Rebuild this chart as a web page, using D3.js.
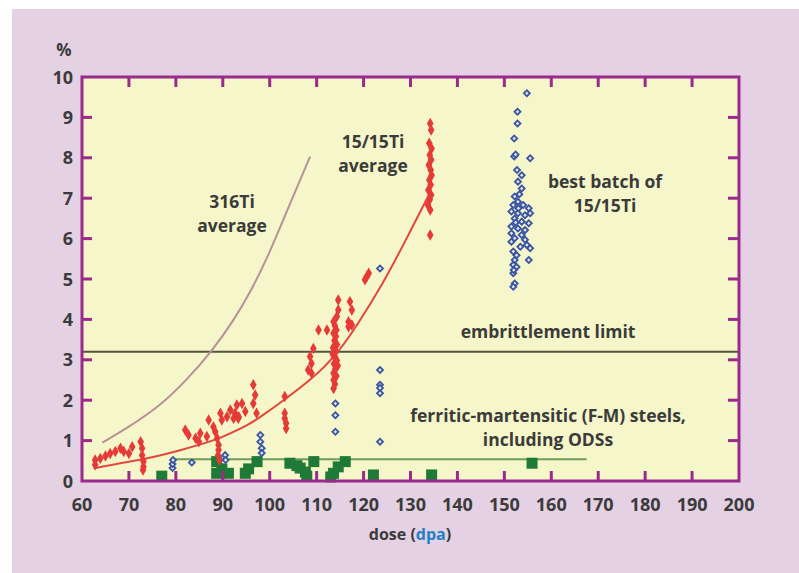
<!DOCTYPE html>
<html>
<head>
<meta charset="utf-8">
<script src="https://cdn.jsdelivr.net/npm/d3@7"></script>
<style>
  html, body { margin: 0; padding: 0; background: #fff; }
  svg { display: block; }
  text { font-family: "Open Sans", sans-serif; font-weight: 700; fill: #3b3b3b; }
</style>
</head>
<body>
<svg id="chart" width="799" height="573"></svg>
<script>
// dose axis (dpa) and swelling axis (%)
var xTicks = [60, 70, 80, 90, 100, 110, 120, 130, 140, 150, 160, 170, 180, 190, 200];
var yTicks = [0, 1, 2, 3, 4, 5, 6, 7, 8, 9, 10];

// average curves [dose, %]
var avg316Ti = [[64.3, 0.95], [69.5, 1.3], [76.6, 1.85], [82.3, 2.5], [87.6, 3.2],
  [92.2, 3.95], [96, 4.7], [99.4, 5.5], [103, 6.5], [108.6, 8.03]];
var avg1515Ti = [[62.5, 0.31], [68, 0.44], [74.2, 0.56], [81.3, 0.77], [88.4, 1.01],
  [91.6, 1.18], [95.5, 1.39], [98.6, 1.63], [103.6, 2.05], [108.6, 2.5], [111.5, 2.8],
  [115, 3.25], [118.6, 3.85], [124.2, 4.9], [128.5, 5.85], [134, 7.1]];

var embrittlementLimit = 3.2;
var fmAverage = [[79, 0.54], [167.5, 0.54]];

// 15/15Ti measurements
var points1515Ti = [
  [62.8, 0.40], [62.8, 0.52], [63.9, 0.56], [65.0, 0.62], [66.0, 0.68], [67.1, 0.73],
  [68.2, 0.81], [68.9, 0.73], [70.0, 0.68], [70.7, 0.85], [72.5, 0.97], [72.8, 0.81],
  [72.8, 0.64], [73.1, 0.48], [73.1, 0.35], [73.0, 0.27],
  [82.0, 1.26], [82.7, 1.14], [84.2, 1.06], [84.9, 0.97], [85.2, 1.18], [86.6, 1.10],
  [87.0, 1.51], [88.0, 1.34], [88.4, 1.22], [88.8, 1.06], [89.1, 0.89], [89.1, 0.77],
  [89.0, 0.64], [89.3, 0.52], [89.5, 1.68], [89.8, 1.51], [90.9, 1.59], [91.6, 1.76],
  [92.3, 1.55], [93.0, 1.88], [93.4, 1.59], [94.1, 1.92], [94.8, 1.72], [92.6, 1.68],
  [93.3, 1.55], [96.5, 2.38], [96.9, 2.13], [96.5, 1.92], [97.2, 1.68],
  [103.2, 2.09], [103.2, 1.68], [103.2, 1.55], [103.5, 1.43], [103.5, 1.30],
  [108.2, 2.75], [108.9, 2.67], [108.9, 2.91], [108.6, 3.08], [109.3, 3.28],
  [110.4, 3.74], [112.2, 3.74],
  [113.6, 2.29], [113.9, 2.40], [113.6, 2.50], [114.2, 2.60], [113.6, 2.67], [114.0, 2.78],
  [113.7, 2.90], [114.3, 2.98], [113.8, 3.08], [114.1, 3.20], [113.5, 3.30], [114.3, 3.38],
  [113.8, 3.48], [114.1, 3.58], [113.6, 3.66], [114.2, 3.74], [113.9, 3.84], [113.6, 3.94],
  [114.3, 4.07], [114.6, 4.23], [114.6, 4.48], [114.5, 2.85], [113.4, 3.15],
  [117.1, 4.44], [117.5, 4.23], [116.8, 3.94], [117.5, 3.86], [116.8, 3.82],
  [120.3, 4.98], [120.7, 5.06], [121.1, 5.14],
  [134.2, 8.85], [134.4, 8.69], [134.0, 8.36], [134.5, 8.23], [134.1, 8.07], [134.4, 7.95],
  [133.9, 7.82], [134.3, 7.70], [134.5, 7.57], [134.0, 7.45], [134.3, 7.33], [133.8, 7.20],
  [134.4, 7.08], [134.1, 6.96], [133.7, 6.83], [134.2, 6.71], [134.2, 6.09]
];

// best batch of 15/15Ti and other scattered measurements
var pointsBestBatch = [
  [79.3, 0.32], [79.3, 0.42], [79.4, 0.52], [83.4, 0.46], [90.5, 0.64], [90.6, 0.52],
  [98.0, 1.14], [98.0, 0.97], [98.3, 0.81], [98.3, 0.69],
  [114.0, 1.92], [114.0, 1.63], [114.0, 1.22],
  [123.5, 2.75], [123.5, 2.38], [123.5, 2.30], [123.5, 2.17], [123.5, 0.97], [123.5, 5.26],
  [154.8, 9.60], [152.8, 9.14], [152.8, 8.85], [152.1, 8.48], [152.1, 8.03], [152.4, 8.08],
  [155.5, 7.99], [152.7, 7.70], [153.7, 7.57], [152.9, 7.41], [153.7, 7.24], [152.2, 7.04],
  [152.9, 6.91], [151.9, 6.83], [154.0, 6.83], [155.2, 6.75], [151.5, 6.67], [152.9, 6.63],
  [154.4, 6.58], [155.5, 6.63], [152.2, 6.50], [153.7, 6.42], [155.2, 6.38], [151.5, 6.30],
  [152.9, 6.25], [154.4, 6.21], [151.5, 6.13], [153.7, 6.09], [152.2, 6.01], [154.4, 5.97],
  [151.5, 5.92], [154.8, 5.84], [155.5, 5.76], [151.9, 5.68], [152.6, 5.59], [152.2, 5.47],
  [155.2, 5.47], [151.9, 5.35], [152.6, 5.30], [151.9, 5.14], [152.2, 4.89], [151.9, 4.81],
  [153.2, 7.10], [153.0, 6.75], [152.4, 6.40], [153.4, 5.80], [152.0, 5.22]
];

// ferritic-martensitic steels
var pointsFM = [
  [77.0, 0.12], [88.7, 0.48], [88.7, 0.19], [89.8, 0.30], [91.2, 0.19], [94.8, 0.19],
  [95.5, 0.30], [97.3, 0.48], [104.3, 0.44], [105.8, 0.38], [106.5, 0.32], [107.6, 0.22],
  [107.9, 0.12], [109.4, 0.48], [113.6, 0.19], [113.0, 0.10], [114.6, 0.35], [116.1, 0.48],
  [122.1, 0.15], [134.5, 0.15], [155.9, 0.44]
];

var svg = d3.select('#chart');
var x = d3.scaleLinear().domain([60, 200]).range([82, 739]);
var y = d3.scaleLinear().domain([0, 10]).range([481, 77]);
var line = d3.line().x(function (d) { return x(d[0]); }).y(function (d) { return y(d[1]); });
var curve = d3.line().curve(d3.curveBasis)
  .x(function (d) { return x(d[0]); }).y(function (d) { return y(d[1]); });

svg.append('rect').attr('x', 12).attr('y', 9).attr('width', 787).attr('height', 564)
  .attr('fill', '#e5d1e4');
svg.append('rect').attr('x', x(60)).attr('y', y(10))
  .attr('width', x(200) - x(60)).attr('height', y(0) - y(10))
  .attr('fill', '#f5f6c9');

svg.append('line')
  .attr('x1', x(60)).attr('x2', x(200))
  .attr('y1', y(embrittlementLimit)).attr('y2', y(embrittlementLimit))
  .attr('stroke', '#55553f').attr('stroke-width', 2);

svg.append('path').datum(fmAverage).attr('d', line)
  .attr('fill', 'none').attr('stroke', '#6f9c5a').attr('stroke-width', 2);

svg.append('path').datum(avg316Ti).attr('d', curve)
  .attr('fill', 'none').attr('stroke', '#b79198').attr('stroke-width', 2);

svg.append('path').datum(avg1515Ti).attr('d', curve)
  .attr('fill', 'none').attr('stroke', '#e2463c').attr('stroke-width', 2);

svg.append('g').selectAll('rect')
  .data(pointsFM)
  .enter().append('rect')
  .attr('x', function (d) { return x(d[0]) - 5.5; })
  .attr('y', function (d) { return y(d[1]) - 5.5; })
  .attr('width', 11).attr('height', 11)
  .attr('fill', '#1f7a38');

svg.append('g').selectAll('path')
  .data(points1515Ti)
  .enter().append('path')
  .attr('d', d3.symbol().type(d3.symbolDiamond).size(38))
  .attr('transform', function (d) { return 'translate(' + x(d[0]) + ',' + y(d[1]) + ')'; })
  .attr('fill', '#e63a37');

// open diamonds: a square turned by 45 degrees
svg.append('g').selectAll('path')
  .data(pointsBestBatch)
  .enter().append('path')
  .attr('d', d3.symbol().type(d3.symbolSquare).size(18))
  .attr('transform', function (d) { return 'translate(' + x(d[0]) + ',' + y(d[1]) + ') rotate(45)'; })
  .attr('fill', '#e4e8f0')
  .attr('stroke', '#3a55a0')
  .attr('stroke-width', 1.8);

// frame with inward ticks on all four sides
var frame = svg.append('g').attr('stroke', '#9a2a8b').attr('stroke-width', 3);
frame.append('rect').attr('x', x(60)).attr('y', y(10))
  .attr('width', x(200) - x(60)).attr('height', y(0) - y(10)).attr('fill', 'none');
frame.selectAll('.tb').data(xTicks.slice(1, -1)).enter().append('line')
  .attr('x1', x).attr('x2', x).attr('y1', y(0)).attr('y2', y(0) - 10);
frame.selectAll('.tt').data(xTicks.slice(1, -1)).enter().append('line')
  .attr('x1', x).attr('x2', x).attr('y1', y(10)).attr('y2', y(10) + 10);
frame.selectAll('.tl').data(yTicks.slice(1, -1)).enter().append('line')
  .attr('y1', y).attr('y2', y).attr('x1', x(60)).attr('x2', x(60) + 10);
frame.selectAll('.tr').data(yTicks.slice(1, -1)).enter().append('line')
  .attr('y1', y).attr('y2', y).attr('x1', x(200)).attr('x2', x(200) - 11);

svg.append('g').selectAll('text').data(xTicks).enter().append('text')
  .attr('x', x).attr('y', 511).attr('text-anchor', 'middle')
  .attr('font-size', 18).text(function (d) { return d; });
svg.append('g').selectAll('text').data(yTicks).enter().append('text')
  .attr('x', 73).attr('y', function (d) { return y(d) + 6.5; }).attr('text-anchor', 'end')
  .attr('font-size', 18).text(function (d) { return d; });

svg.append('text').attr('x', 64).attr('y', 56).attr('text-anchor', 'middle')
  .attr('font-size', 17).text('%');

var axisTitle = svg.append('text').attr('x', 410).attr('y', 540)
  .attr('text-anchor', 'middle').attr('font-size', 16);
axisTitle.append('tspan').text('dose (');
axisTitle.append('tspan').style('fill', '#1f80c6').text('dpa');
axisTitle.append('tspan').text(')');

function label(lines, cx, baseline, gap) {
  lines.forEach(function (t, i) {
    svg.append('text').attr('x', cx).attr('y', baseline + i * gap)
      .attr('text-anchor', 'middle').attr('font-size', 17.5).text(t);
  });
}
label(['316Ti', 'average'], 232, 208, 24);
label(['15/15Ti', 'average'], 373, 148, 24);
label(['best batch of', '15/15Ti'], 605, 188, 24);
label(['embrittlement limit'], 548, 338, 0);
label(['ferritic-martensitic (F-M) steels,', 'including ODSs'], 548, 422, 24);
</script>
</body>
</html>
